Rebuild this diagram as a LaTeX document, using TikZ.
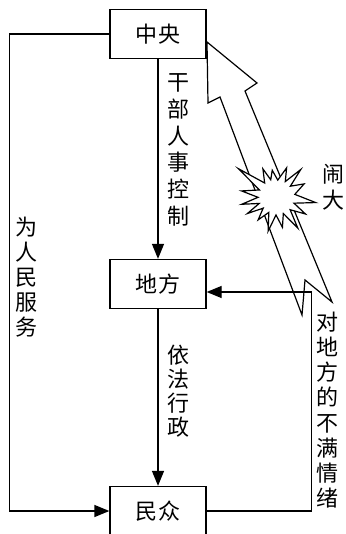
\documentclass[tikz,border=0pt]{standalone}
\usepackage{fontspec}
\newfontfamily\cjk{Noto Sans CJK SC}
\usetikzlibrary{arrows.meta}
\begin{document}
\begin{tikzpicture}[x=1pt,y=-1pt,
  box/.style={draw,line width=1.3pt,minimum width=96pt,minimum height=49pt,inner sep=0pt,font=\cjk\fontsize{22}{22}\selectfont},
  conn/.style={line width=1.3pt},
  arr/.style={conn,-{Triangle[length=15pt,width=12pt]}},
  vlab/.style={align=center,inner sep=0pt},
  shape line/.style={line width=1.2pt,line join=miter}
  ]
\useasboundingbox (0,0) rectangle (345,534);
% boxes
\node[box] (zy) at (158,34) {中\hspace{2pt}央};
\node[box] (df) at (158,284) {地\hspace{2pt}方};
\node[box] (mz) at (158,511) {民\hspace{2pt}众};
% connectors
\draw[arr] (zy.south) -- (df.north);
\draw[arr] (df.south) -- (mz.north);
\draw[arr] (zy.west) -- ++(-100,0) |- (mz.west);
\draw[arr] (mz.east) -- ++(105,0) |- ([yshift=-8pt]df.east);
% hollow arrow
\draw[shape line] (207,42) -- (257,83) -- (245,91) -- (332,302) -- (305,280)
  -- (302,315) -- (220,97) -- (208,103) -- cycle;
% explosion
\begin{scope}[shift={(276,197)}]
\draw[shape line,fill=white] (8:40) -- (19:19) -- (30:34) -- (42:19) -- (55:38) -- (66:18)
  -- (78:31) -- (90:18) -- (103:35) -- (115:17) -- (128:29) -- (139:17) -- (150:33)
  -- (159:18) -- (168:35) -- (179:18) -- (190:35) -- (203:18) -- (217:47) -- (231:18)
  -- (245:31) -- (253:18) -- (262:27) -- (276:17) -- (290:31) -- (301:18) -- (312:37)
  -- (323:18) -- (335:31) -- (352:19) -- cycle;
\end{scope}
% labels
\node[vlab,font=\cjk\fontsize{22}{26.8}\selectfont] (l1) at (178,150) {干\\部\\人\\事\\控\\制};
\node[vlab,font=\cjk\fontsize{22}{24}\selectfont] (l2) at (178,391) {依\\法\\行\\政};
\node[vlab,font=\cjk\fontsize{22}{25}\selectfont] (l3) at (27,277) {为\\人\\民\\服\\务};
\node[vlab,font=\cjk\fontsize{22}{25.2}\selectfont] (l4) at (327,410) {对\\地\\方\\的\\不\\满\\情\\绪};
\node[vlab,font=\cjk\fontsize{22}{26}\selectfont] (l5) at (333,187) {闹\\大};
\end{tikzpicture}
\end{document}
